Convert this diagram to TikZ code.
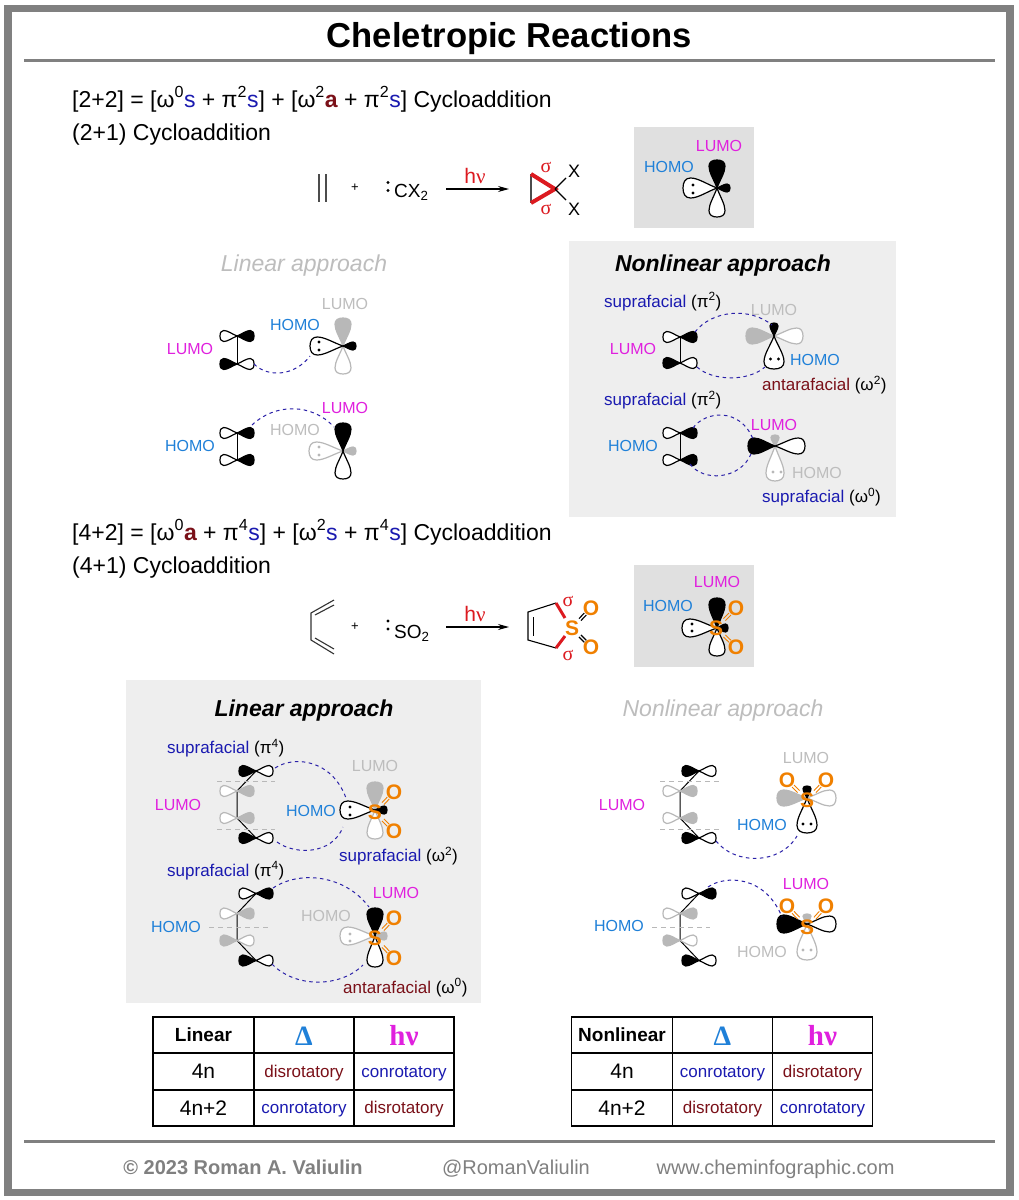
\documentclass[tikz,border=0pt]{standalone}
\usepackage{fontspec}
\setmainfont{Liberation Sans}
\newfontfamily\symfont{Liberation Serif}
\usetikzlibrary{calc,arrows.meta}

\definecolor{framegray}{HTML}{808080}
\definecolor{panelgray}{HTML}{EEEEEE}
\definecolor{boxgray}{HTML}{E0E0E0}
\definecolor{fadegray}{HTML}{BDBDBD}
\definecolor{lobegray}{HTML}{B8B8B8}
\definecolor{lumocol}{HTML}{E020DE}
\definecolor{homocol}{HTML}{1F80D8}
\definecolor{supracol}{HTML}{1A1AB0}
\definecolor{antacol}{HTML}{7A1018}
\definecolor{sulfcol}{HTML}{F08000}
\definecolor{redcol}{HTML}{DC1A20}
\definecolor{orbitcol}{HTML}{2A20A8}

\newcommand{\fs}[1]{\fontsize{#1}{#1}\selectfont}
\newcommand{\up}[1]{\textsuperscript{#1}}
\newcommand{\ssup}[1]{\textcolor{supracol}{#1}}
\newcommand{\aanta}[1]{\textcolor{antacol}{#1}}
\newcommand{\disro}{\textcolor{antacol}{disrotatory}}
\newcommand{\conro}{\textcolor{supracol}{conrotatory}}

% one p lobe, from its node outwards
\newcommand{\lobe}[6]{
    \path[#6, shift={(#1,#2)}, rotate=#3]
        (0,0) .. controls ({.30*#4},{.38*#5}) and ({.55*#4},{#5}) .. ({.78*#4},{#5})
        .. controls ({.93*#4},{#5}) and ({#4},{.6*#5}) .. ({#4},0)
        .. controls ({#4},{-.6*#5}) and ({.93*#4},{-#5}) .. ({.78*#4},{-#5})
        .. controls ({.55*#4},{-#5}) and ({.30*#4},{-.38*#5}) .. (0,0);
}
\newcommand{\plobes}[4]{
    \lobe{#1}{#2}{180}{17}{5.5}{#3}
    \lobe{#1}{#2}{0}{17}{5.5}{#4}
}
\newcommand{\pibond}[7]{
    \draw[bond] (#1,#2) -- (#1,#3);
    \plobes{#1}{#2}{#4}{#5}
    \plobes{#1}{#3}{#6}{#7}
}
\newcommand{\diene}[8]{
    \draw[bond] (19,0) -- (0,20) -- (0,47) -- (19,67);
    \plobes{19}{0}{#1}{#2}
    \plobes{0}{20}{#3}{#4}
    \plobes{0}{47}{#5}{#6}
    \plobes{19}{67}{#7}{#8}
}
\newcommand{\lonepair}[3]{
    \fill[#3] (#1) circle (1.6);
    \fill[#3] (#2) circle (1.6);
}
\newcommand{\sobond}[3]{
    \coordinate (p) at ($(#1)!.42!(#2)$);
    \coordinate (q) at ($(#1)!.70!(#2)$);
    \draw[#3] ($(p)!1.4pt!90:(#2)$) -- ($(q)!1.4pt!90:(#2)$);
    \draw[#3] ($(p)!1.4pt!-90:(#2)$) -- ($(q)!1.4pt!-90:(#2)$);
}
\newcommand{\sulfone}[7]{
    \node[atom] (sul) at (#1,#2) {S};
    \node[atom] (oxa) at (#3,#4) {O};
    \node[atom] (oxb) at (#5,#6) {O};
    \sobond{sul}{oxa}{#7}
    \sobond{sul}{oxb}{#7}
}
\newcommand{\ruletable}[5]{
    \draw[tabline] (0,1017) rectangle (301,1126);
    \draw[tabline] (101,1017) -- (101,1126);
    \draw[tabline] (201,1017) -- (201,1126);
    \draw[tabline] (0,1053) -- (301,1053);
    \draw[tabline] (0,1090) -- (301,1090);
    \node[cell, font=\fs{19}\bfseries] (tabhead) at (50.5,1035) {#1};
    \node[cell, font=\fs{28}\symfont\bfseries, homocol] (tabheat) at (151,1036) {Δ};
    \node[cell, font=\fs{29}\symfont\bfseries, lumocol] (tablight) at (251,1036) {hν};
    \node[cell, font=\fs{21}] (tabfour) at (50.5,1071.5) {4n};
    \node[cell, font=\fs{21}] (tabfourtwo) at (50.5,1108) {4n+2};
    \node[cell, anchor=base] (cella) at (151,1077) {#2};
    \node[cell, anchor=base] (cellb) at (251,1077) {#3};
    \node[cell, anchor=base] (cellc) at (151,1113.5) {#4};
    \node[cell, anchor=base] (celld) at (251,1113.5) {#5};
}

\tikzset{
    x=1pt, y=-1pt,
    lab/.style={inner sep=0, font=\fs{16}},
    lumo/.style={lab, lumocol},
    homo/.style={lab, homocol},
    faded/.style={lab, fadegray},
    side/.style={lab, anchor=base west, font=\fs{17}},
    eqn/.style={inner sep=0, anchor=base west, font=\fs{23}},
    heading/.style={inner sep=0, font=\fs{23}\bfseries\itshape},
    fadehead/.style={inner sep=0, font=\fs{23}\itshape, fadegray},
    bond/.style={line width=1, black},
    bk/.style={fill=black, draw=black, line width=1.2},
    wt/.style={fill=white, draw=black, line width=1.2},
    gy/.style={fill=lobegray, draw=lobegray, line width=1.2},
    fa/.style={fill=white, draw=lobegray, line width=1.2},
    orbit/.style={orbitcol, line width=1, dash pattern=on 3.5pt off 3.5pt},
    guide/.style={lobegray, line width=.9, dash pattern=on 5pt off 4pt},
    atom/.style={inner sep=0, font=\fs{21}\bfseries, sulfcol},
    sigma/.style={inner sep=0, font=\fs{20}\symfont, redcol},
    light/.style={inner sep=0, font=\fs{21}, redcol},
    thinbond/.style={black, line width=1.1},
    sobondo/.style={sulfcol, line width=.9},
    sigbond/.style={redcol, line width=4},
    rxn/.style={line width=1.1, -{Stealth[length=11pt,width=6pt]}},
    tabline/.style={black, line width=1.2},
    cell/.style={inner sep=0, font=\fs{17}},
    foot/.style={inner sep=0, framegray, font=\fs{20}},
}

\begin{document}
\begin{tikzpicture}
    \useasboundingbox (0,0) rectangle (1018,1200);
    \fill[white] (0,0) rectangle (1018,1200);
    \draw[framegray, line width=7.5] (8,8.5) rectangle (1010,1192.5);
    \draw[framegray, line width=3] (24,60) -- (995,60);
    \draw[framegray, line width=3] (24,1141) -- (995,1141);
    \node[inner sep=0, font=\fs{34.6}\bfseries] (title) at (509.5,38.5) {Cheletropic Reactions};

    % panels
    \fill[boxgray] (634,127) rectangle (754,228);
    \fill[boxgray] (634,565) rectangle (754,667);
    \fill[panelgray] (569,241) rectangle (896,517);
    \fill[panelgray] (126,680) rectangle (481,1003);

    % first reaction
    \node[eqn] (eqna) at (72,107) {[2+2] = [ω\up{0}\ssup{s} + π\up{2}\ssup{s}] + [ω\up{2}\aanta{\bfseries a} + π\up{2}\ssup{s}] Cycloaddition};
    \node[eqn] (eqnb) at (72,140) {(2+1) Cycloaddition};
    \draw[thinbond, black!70, line width=1.3] (319,174) -- (319,202);
    \draw[thinbond, black!70, line width=1.3] (326,174) -- (326,202);
    \node[inner sep=0, font=\fs{13}] (plusa) at (355,188) {+};
    \lonepair{388,182.5}{388,190.5}{black}
    \node[inner sep=0, anchor=base west, font=\fs{19}] (carb) at (394,197.5) {CX\textsubscript{2}};
    \draw[rxn] (446,189) -- (509,189);
    \node[light] (hva) at (475,176) {h{\symfont ν}};
    \draw[thinbond, black!70] (531,174) -- (531,203);
    \draw[sigbond, line join=miter] (531,174) -- (555,189) -- (531,203);
    \draw[thinbond] (555,189) -- (566,178);
    \draw[thinbond] (555,189) -- (566,200);
    \node[sigma] (siga) at (546,167) {σ};
    \node[sigma] (sigb) at (546,209) {σ};
    \node[inner sep=0, font=\fs{18}] (xa) at (574,171) {X};
    \node[inner sep=0, font=\fs{18}] (xb) at (574,209) {X};

    \node[lumo] (lumoa) at (719,146) {LUMO};
    \node[homo] (homoa) at (669,167) {HOMO};
    \foreach \ang/\len/\wid/\sty in {90/28/8/bk, -90/29/8/wt, 180/34/10/wt, 0/13/4/bk}
        {\lobe{717}{188}{\ang}{\len}{\wid}{\sty}}
    \lonepair{693,185}{693,193}{black}

    % linear, 2+1
    \node[fadehead] (lina) at (304,266) {Linear approach};
    \node[lumo] (lumob) at (190,349) {LUMO};
    \pibond{237}{336}{364}{wt}{bk}{bk}{wt}
    \foreach \ang/\len/\wid/\sty in {90/28/8/gy, -90/28/8/fa, 180/33/9/wt, 0/13/4/bk}
        {\lobe{343}{346}{\ang}{\len}{\wid}{\sty}}
    \lonepair{319,342}{319,350}{black}
    \node[homo] (homob) at (295,324.5) {HOMO};
    \node[faded] (lumoc) at (345,304) {LUMO};
    \draw[orbit] (254,364) .. controls (268,378) and (295,376) .. (310,356);

    \node[homo] (homoc) at (190,446) {HOMO};
    \pibond{237}{433}{460}{wt}{bk}{wt}{bk}
    \foreach \ang/\len/\wid/\sty in {180/34/9/fa, 0/13/4/gy, -90/28/8/wt, 90/28/8/bk}
        {\lobe{343}{451}{\ang}{\len}{\wid}{\sty}}
    \lonepair{319,447}{319,455}{lobegray}
    \node[lumo] (lumod) at (345,408) {LUMO};
    \node[faded] (homod) at (295,430) {HOMO};
    \draw[orbit] (252,425) .. controls (275,403) and (312,403) .. (334,427);

    % nonlinear, 2+1
    \node[heading] (nona) at (723,266) {Nonlinear approach};
    \node[side] (supa) at (604,307) {\ssup{suprafacial} (π\up{2})};
    \node[lumo] (lumoe) at (633,349) {LUMO};
    \pibond{680}{337}{363}{wt}{bk}{bk}{wt}
    \foreach \ang/\len/\wid/\sty in {180/28/8/gy, 0/29/8/fa, -90/33/10/wt, 90/13/4/bk}
        {\lobe{774}{336}{\ang}{\len}{\wid}{\sty}}
    \lonepair{770.5,359}{778.5,359}{black}
    \node[faded] (lumof) at (774,310) {LUMO};
    \node[homo] (homof) at (815,360) {HOMO};
    \node[side] (antaa) at (762,390.5) {\aanta{antarafacial} (ω\up{2})};
    \draw[orbit] (695,332) .. controls (712,310) and (750,307) .. (772,325);
    \draw[orbit] (697,367) .. controls (712,381) and (748,382) .. (765,367);

    \node[side] (supb) at (604,405.5) {\ssup{suprafacial} (π\up{2})};
    \node[homo] (homog) at (633,446) {HOMO};
    \pibond{680}{433}{460}{wt}{bk}{wt}{bk}
    \foreach \ang/\len/\wid/\sty in {-90/35/9/fa, 90/11/4/gy, 0/30/8/wt, 180/27/8/bk}
        {\lobe{775}{446}{\ang}{\len}{\wid}{\sty}}
    \lonepair{773,472}{781,472}{lobegray}
    \node[lumo] (lumog) at (774,425) {LUMO};
    \node[faded] (homoh) at (817,473) {HOMO};
    \node[side] (supc) at (762,502.5) {\ssup{suprafacial} (ω\up{0})};
    \draw[orbit] (693,428) .. controls (705,411) and (740,407) .. (753,439);
    \draw[orbit] (690,464) .. controls (703,482) and (740,480) .. (751,454);

    % second reaction
    \node[eqn] (eqnc) at (72,540) {[4+2] = [ω\up{0}\aanta{\bfseries a} + π\up{4}\ssup{s}] + [ω\up{2}\ssup{s} + π\up{4}\ssup{s}] Cycloaddition};
    \node[eqn] (eqnd) at (72,573) {(4+1) Cycloaddition};
    \draw[thinbond, black!80] (334,600) -- (311,613) -- (311,640) -- (334,654);
    \draw[thinbond, black!80] (315,615) -- (334,605);
    \draw[thinbond, black!80] (315,638) -- (334,649);
    \node[inner sep=0, font=\fs{13}] (plusb) at (355,627) {+};
    \lonepair{388,621}{388,629}{black}
    \node[inner sep=0, anchor=base west, font=\fs{19}] (sotwo) at (394,638) {SO\textsubscript{2}};
    \draw[rxn] (446,627) -- (509,627);
    \node[light] (hvb) at (475,614) {h{\symfont ν}};
    \draw[thinbond] (556,603) -- (528,612) -- (528,640) -- (556,648);
    \draw[thinbond] (533.5,617) -- (533.5,636);
    \draw[sigbond, line width=3] (556,603) -- (565,618);
    \draw[sigbond, line width=3] (556,648) -- (565,636);
    \sulfone{572}{628}{591}{608}{591}{647}{thinbond}
    \node[sigma] (sigc) at (568,601) {σ};
    \node[sigma] (sigd) at (568,655) {σ};

    \node[lumo] (lumoh) at (717,582) {LUMO};
    \node[homo] (homoi) at (668,606) {HOMO};
    \foreach \ang/\len/\wid/\sty in {90/30/8/bk, -90/28/8/wt, 180/35/9/wt, 0/11/4/bk}
        {\lobe{717}{628}{\ang}{\len}{\wid}{\sty}}
    \lonepair{692,624}{692,631}{black}
    \sulfone{716}{628}{736}{608}{736}{647}{sobondo}

    % linear, 4+1
    \node[heading] (linb) at (304,711) {Linear approach};
    \node[side] (supd) at (167,753.5) {\ssup{suprafacial} (π\up{4})};
    \node[lumo] (lumoi) at (178,805) {LUMO};
    \begin{scope}[shift={(237,771)}]
        \diene{bk}{wt}{fa}{gy}{fa}{gy}{bk}{wt}
    \end{scope}
    \draw[guide] (217,781) -- (275,781);
    \draw[guide] (217,829) -- (275,829);
    \foreach \ang/\len/\wid/\sty in {90/28/8/gy, -90/29/8/fa, 180/35/9/wt, 0/12/4/bk}
        {\lobe{375}{810}{\ang}{\len}{\wid}{\sty}}
    \lonepair{350,807}{350,815}{black}
    \sulfone{375}{812}{394}{792}{394}{831}{sobondo}
    \node[faded] (lumoj) at (375,766) {LUMO};
    \node[homo] (homoj) at (311,811) {HOMO};
    \node[side] (supe) at (339,861.5) {\ssup{suprafacial} (ω\up{2})};
    \draw[orbit] (275,768) .. controls (295,755) and (332,760) .. (346,798);
    \draw[orbit] (277,842) .. controls (295,855) and (332,855) .. (343,827);

    \node[side] (supf) at (167,876) {\ssup{suprafacial} (π\up{4})};
    \node[homo] (homok) at (176,927) {HOMO};
    \begin{scope}[shift={(237,893.5)}]
        \diene{wt}{bk}{fa}{gy}{gy}{fa}{bk}{wt}
    \end{scope}
    \draw[guide] (209,927) -- (268,927);
    \foreach \ang/\len/\wid/\sty in {180/35/9/fa, 0/12/4/gy, -90/31/8/wt, 90/28/8/bk}
        {\lobe{375}{936}{\ang}{\len}{\wid}{\sty}}
    \lonepair{350,934}{350,941}{lobegray}
    \sulfone{375}{938}{394}{918}{394}{958}{sobondo}
    \node[lumo] (lumok) at (396,893) {LUMO};
    \node[faded] (homol) at (326,916) {HOMO};
    \node[side] (antab) at (343,993) {\aanta{antarafacial} (ω\up{0})};
    \draw[orbit] (273,888) .. controls (300,870) and (345,875) .. (369,907);
    \draw[orbit] (272,964) .. controls (295,988) and (340,988) .. (363,965);

    % nonlinear, 4+1
    \node[fadehead] (nonb) at (723,711) {Nonlinear approach};
    \node[lumo] (lumol) at (622,805) {LUMO};
    \begin{scope}[shift={(680,771)}]
        \diene{bk}{wt}{fa}{gy}{fa}{gy}{bk}{wt}
    \end{scope}
    \draw[guide] (660,781) -- (719,781);
    \draw[guide] (660,829) -- (719,829);
    \foreach \ang/\len/\wid/\sty in {180/30/8/gy, 0/29/8/fa, -90/35/10/wt, 90/12/4/bk}
        {\lobe{807}{798}{\ang}{\len}{\wid}{\sty}}
    \lonepair{803,824}{811,824}{black}
    \sulfone{807}{800}{787}{780}{826}{780}{sobondo}
    \node[faded] (lumom) at (806,758) {LUMO};
    \node[homo] (homom) at (762,825) {HOMO};
    \draw[orbit] (716,841) .. controls (735,865) and (780,865) .. (797,836);

    \node[homo] (homon) at (619,926) {HOMO};
    \begin{scope}[shift={(680,893.5)}]
        \diene{wt}{bk}{fa}{gy}{gy}{fa}{bk}{wt}
    \end{scope}
    \draw[guide] (652,927) -- (710,927);
    \foreach \ang/\len/\wid/\sty in {-90/36/10/fa, 90/10/4/gy, 0/29/8/wt, 180/30/9/bk}
        {\lobe{807}{924}{\ang}{\len}{\wid}{\sty}}
    \lonepair{803,950}{811,950}{lobegray}
    \sulfone{807}{927}{787}{906}{826}{906}{sobondo}
    \node[lumo] (lumon) at (806,884) {LUMO};
    \node[faded] (homoo) at (762,952) {HOMO};
    \draw[orbit] (708,887) .. controls (725,875) and (765,875) .. (782,917);

    % tables
    \begin{scope}[shift={(153,0)}]
        \ruletable{Linear}{\disro}{\conro}{\conro}{\disro}
    \end{scope}
    \begin{scope}[shift={(571.5,0)}]
        \ruletable{Nonlinear}{\conro}{\disro}{\disro}{\conro}
    \end{scope}

    % footer
    \node[foot, font=\fs{20}\bfseries, anchor=base] (copy) at (243,1174) {© 2023 Roman A. Valiulin};
    \node[foot, anchor=base] (hand) at (516,1174) {@RomanValiulin};
    \node[foot, anchor=base] (site) at (775.5,1174) {www.cheminfographic.com};
\end{tikzpicture}
\end{document}
